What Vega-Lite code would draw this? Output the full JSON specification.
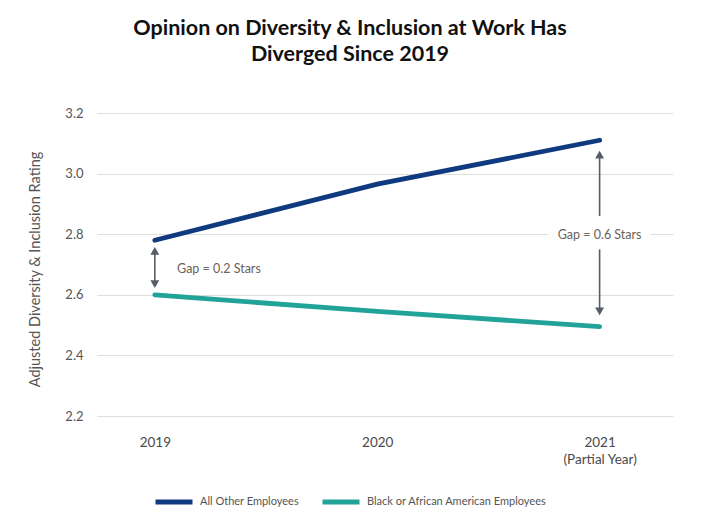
{
  "$schema": "https://vega.github.io/schema/vega-lite/v6.json",
  "autosize": {"type": "none"},
  "width": 576,
  "height": 303,
  "padding": {"left": 97, "top": 113, "right": 38, "bottom": 108},
  "background": "white",
  "title": {
    "text": ["Opinion on Diversity & Inclusion at Work Has", "Diverged Since 2019"],
    "font": "Lato",
    "fontSize": 21.5,
    "fontWeight": "bold",
    "color": "#111111",
    "lineHeight": 26,
    "anchor": "middle",
    "dx": -35,
    "offset": 42
  },
  "config": {
    "font": "Lato",
    "view": {"stroke": null},
    "axis": {"domain": false, "ticks": false}
  },
  "datasets": {
    "series": [
      {"year": 2019, "rating": 2.78, "group": "All Other Employees"},
      {"year": 2020, "rating": 2.965, "group": "All Other Employees"},
      {"year": 2021, "rating": 3.11, "group": "All Other Employees"},
      {"year": 2019, "rating": 2.6, "group": "Black or African American Employees"},
      {"year": 2020, "rating": 2.545, "group": "Black or African American Employees"},
      {"year": 2021, "rating": 2.495, "group": "Black or African American Employees"}
    ],
    "arrowLines": [
      {"year": 2019, "rating": 2.74, "to": 2.64},
      {"year": 2021, "rating": 3.06, "to": 2.86},
      {"year": 2021, "rating": 2.75, "to": 2.55}
    ],
    "arrowHeads": [
      {"year": 2019, "rating": 2.745, "dir": "up"},
      {"year": 2019, "rating": 2.635, "dir": "down"},
      {"year": 2021, "rating": 3.063, "dir": "up"},
      {"year": 2021, "rating": 2.545, "dir": "down"}
    ],
    "labelBox": [
      {"year": 2020.77, "x1": 2021.23, "rating": 2.776, "y1": 2.82}
    ],
    "labelLeft": [
      {"year": 2019.1, "rating": 2.685, "text": "Gap = 0.2 Stars"}
    ],
    "labelCenter": [
      {"year": 2021, "rating": 2.797, "text": "Gap = 0.6 Stars"}
    ]
  },
  "layer": [
    {
      "data": {"name": "series"},
      "mark": {"type": "line", "strokeWidth": 4.8, "strokeCap": "round"},
      "encoding": {
        "x": {
          "field": "year", "type": "quantitative",
          "scale": {"domain": [2018.74, 2021.33], "nice": false, "zero": false},
          "axis": {
            "title": null, "grid": false, "values": [2019, 2020, 2021],
            "labelExpr": "datum.value == 2021 ? ['2021', '(Partial Year)'] : datum.value",
            "labelFontSize": 13.5, "labelColor": "#4a4a4a", "labelPadding": 19,
            "labelFlush": false, "labelLineHeight": 17
          }
        },
        "y": {
          "field": "rating", "type": "quantitative",
          "scale": {"domain": [2.2, 3.2], "nice": false, "zero": false},
          "axis": {
            "title": "Adjusted Diversity & Inclusion Rating",
            "values": [2.2, 2.4, 2.6, 2.8, 3.0, 3.2],
            "format": ".1f",
            "labelFontSize": 13, "labelColor": "#555555", "labelPadding": 14,
            "gridColor": "#dddddd", "gridWidth": 1.2,
            "titleFontSize": 14.5, "titleFontWeight": "normal", "titleColor": "#555555",
            "titleX": -62, "titleY": 156, "titleAngle": -90, "titleAlign": "center", "titleBaseline": "middle"
          }
        },
        "color": {
          "field": "group", "type": "nominal",
          "scale": {
            "domain": ["All Other Employees", "Black or African American Employees"],
            "range": ["#0f3a80", "#22a39a"]
          },
          "legend": {
            "title": null, "orient": "none", "direction": "horizontal",
            "legendX": 56, "legendY": 368,
            "symbolType": "stroke", "symbolStrokeWidth": 5, "symbolSize": 1369,
            "labelFontSize": 11, "labelColor": "#555555", "labelOffset": 5,
            "labelLimit": 400, "columnPadding": 13
          }
        }
      }
    },
    {
      "data": {"name": "labelBox"},
      "mark": {"type": "rect", "fill": "white"},
      "encoding": {
        "x": {"field": "year", "type": "quantitative"},
        "x2": {"field": "x1"},
        "y": {"field": "rating", "type": "quantitative"},
        "y2": {"field": "y1"}
      }
    },
    {
      "data": {"name": "arrowLines"},
      "mark": {"type": "rule", "color": "#575c66", "strokeWidth": 1.6},
      "encoding": {
        "x": {"field": "year", "type": "quantitative"},
        "y": {"field": "rating", "type": "quantitative"},
        "y2": {"field": "to"}
      }
    },
    {
      "data": {"name": "arrowHeads"},
      "mark": {"type": "point", "filled": true, "color": "#575c66", "opacity": 1, "size": 80},
      "encoding": {
        "x": {"field": "year", "type": "quantitative"},
        "y": {"field": "rating", "type": "quantitative"},
        "shape": {
          "field": "dir", "type": "nominal",
          "scale": {"domain": ["up", "down"], "range": ["triangle-up", "triangle-down"]},
          "legend": null
        }
      }
    },
    {
      "data": {"name": "labelLeft"},
      "mark": {"type": "text", "fontSize": 12.5, "color": "#6b6259", "baseline": "middle", "align": "left"},
      "encoding": {
        "x": {"field": "year", "type": "quantitative"},
        "y": {"field": "rating", "type": "quantitative"},
        "text": {"field": "text"}
      }
    },
    {
      "data": {"name": "labelCenter"},
      "mark": {"type": "text", "fontSize": 12.5, "color": "#6b6259", "baseline": "middle", "align": "center"},
      "encoding": {
        "x": {"field": "year", "type": "quantitative"},
        "y": {"field": "rating", "type": "quantitative"},
        "text": {"field": "text"}
      }
    }
  ]
}
